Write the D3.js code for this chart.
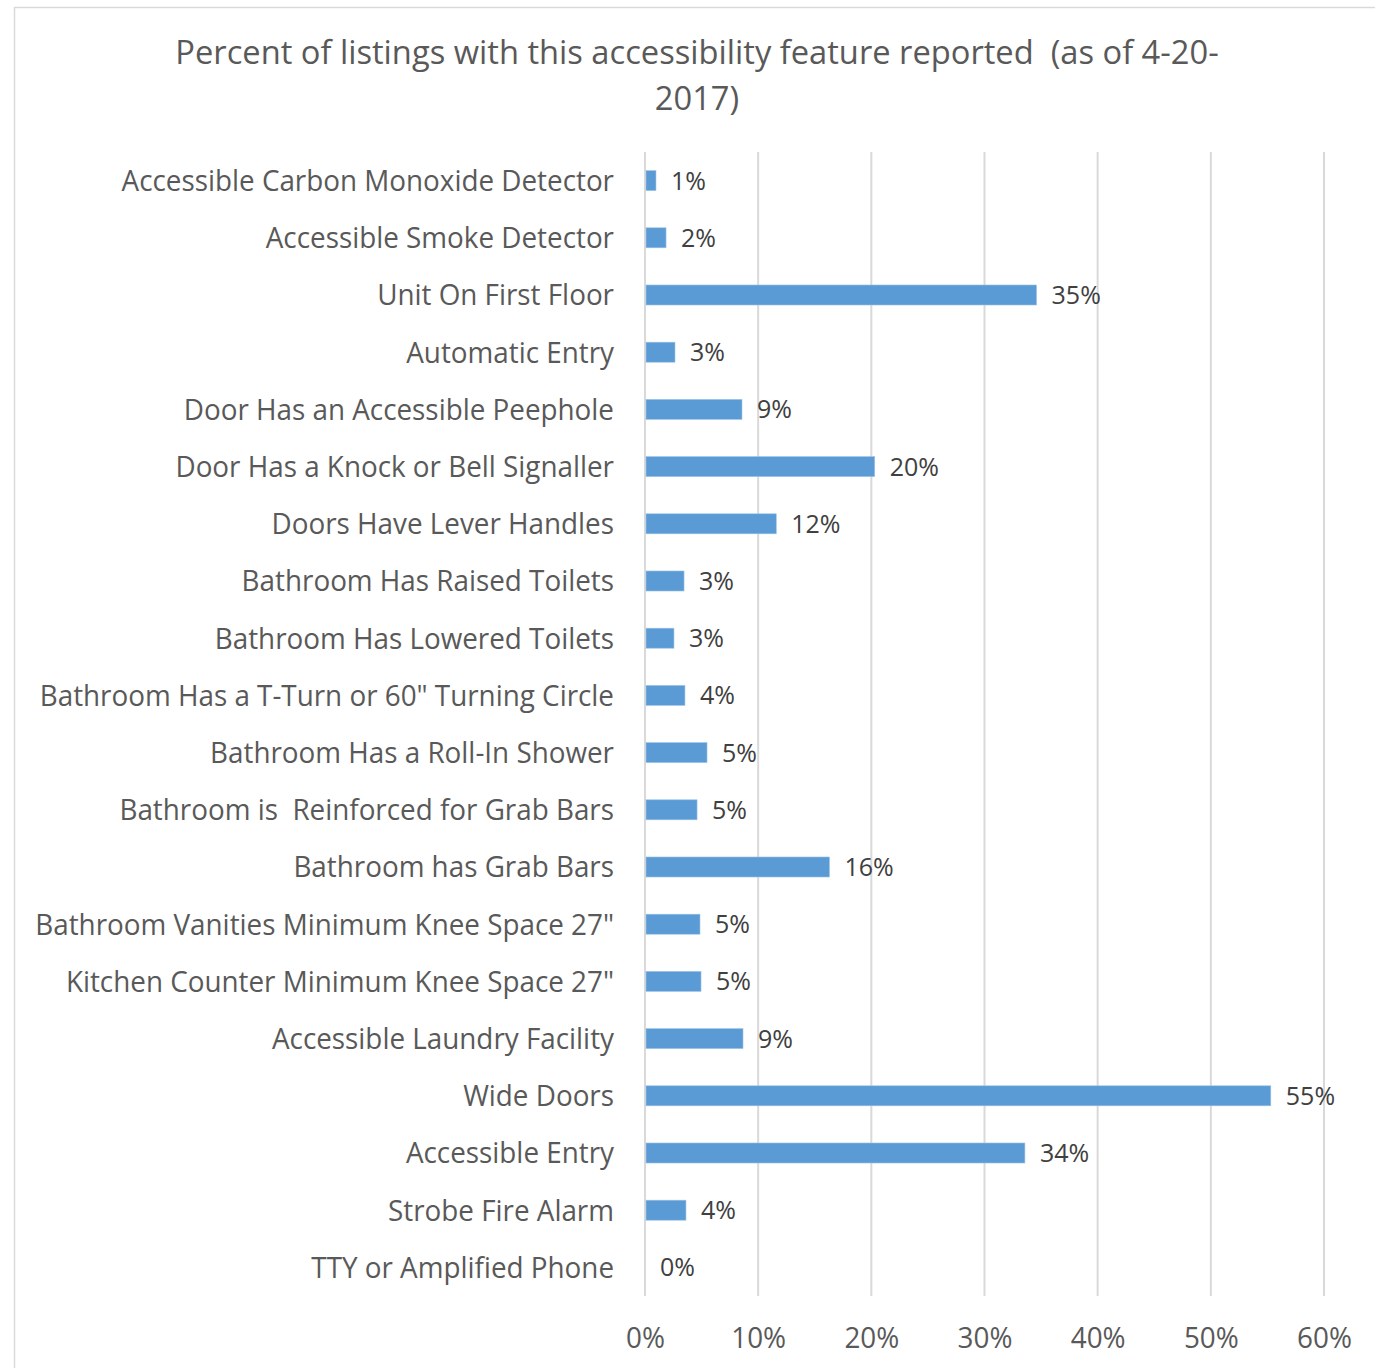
<!DOCTYPE html>
<html><head><meta charset="utf-8">
<script src="https://cdn.jsdelivr.net/npm/d3@7"></script>
<style>body{margin:0;background:#fff}svg{display:block}text{font-family:"Open Sans",sans-serif;white-space:pre}</style>
</head><body>
<svg id="c" width="1375" height="1368"></svg>
<script>
const categories = [
  "Accessible Carbon Monoxide Detector",
  "Accessible Smoke Detector",
  "Unit On First Floor",
  "Automatic Entry",
  "Door Has an Accessible Peephole",
  "Door Has a Knock or Bell Signaller",
  "Doors Have Lever Handles",
  "Bathroom Has Raised Toilets",
  "Bathroom Has Lowered Toilets",
  "Bathroom Has a T-Turn or 60\" Turning Circle",
  "Bathroom Has a Roll-In Shower",
  "Bathroom is  Reinforced for Grab Bars",
  "Bathroom has Grab Bars",
  "Bathroom Vanities Minimum Knee Space 27\"",
  "Kitchen Counter Minimum Knee Space 27\"",
  "Accessible Laundry Facility",
  "Wide Doors",
  "Accessible Entry",
  "Strobe Fire Alarm",
  "TTY or Amplified Phone"
];
const values = [0.97, 1.86, 34.6, 2.65, 8.57, 20.3, 11.6, 3.45, 2.56, 3.53, 5.48, 4.6, 16.3, 4.86, 4.95, 8.66, 55.3, 33.57, 3.62, 0.0];
const ticks = [0, 10, 20, 30, 40, 50, 60];
const title = ["Percent of listings with this accessibility feature reported  (as of 4-20-", "2017)"];

const svg = d3.select("#c");
svg.append("rect").attr("x",14.5).attr("y",7.5).attr("width",1400).attr("height",1400)
  .attr("fill","#fff").attr("stroke","#d9d9d9").attr("stroke-width",1.5);

const x = d3.scaleLinear().domain([0,60]).range([645,1324]);
const y = d3.scaleBand().domain(categories).range([152,1296]).paddingInner(0.65).paddingOuter(0.325);

// gridlines
svg.append("g").selectAll("line").data(ticks).join("line")
  .attr("x1",d=>x(d)).attr("x2",d=>x(d)).attr("y1",152).attr("y2",1296)
  .attr("stroke","#d9d9d9").attr("stroke-width",2);

// bars
svg.append("g").selectAll("rect").data(values).join("rect")
  .attr("x",x(0)+1).attr("y",(d,i)=>y(categories[i]))
  .attr("width",d=>Math.max(0,x(d)-x(0)-1)).attr("height",y.bandwidth())
  .attr("fill","#5b9bd5").attr("stroke","#9dc3e6").attr("stroke-width",0.6);

// value labels
svg.append("g").selectAll("text").data(values).join("text")
  .attr("x",d=>x(d)+15).attr("y",(d,i)=>y(categories[i])+y.bandwidth()/2)
  .attr("dy","0.36em").attr("font-size",25).attr("fill","#404040")
  .text(d=>Math.round(d)+"%");

// category labels
const catSX = 0.96;
svg.append("g").selectAll("text").data(categories).join("text")
  .attr("transform",d=>`translate(614,${y(d)+y.bandwidth()/2}) scale(${catSX},1)`)
  .attr("text-anchor","end").attr("dy","0.36em").attr("font-size",29).attr("fill","#595959")
  .text(d=>d);

// x axis tick labels
const xAxis = d3.axisBottom(x).tickValues(ticks).tickFormat(d=>d+"%").tickSize(0).tickPadding(0);
const ax = svg.append("g").attr("transform","translate(0,1338)").call(xAxis);
ax.select(".domain").remove();
ax.selectAll("text").attr("dy","0.36em").attr("y",0).attr("font-size",29).attr("fill","#595959")
  .attr("font-family","Open Sans").attr("transform","scale(0.96,1)");

// title
svg.append("g").selectAll("text").data(title).join("text")
  .attr("transform",(d,i)=>`translate(697,${52+i*46}) scale(0.99,1)`)
  .attr("text-anchor","middle").attr("dy","0.36em").attr("font-size",33).attr("fill","#595959")
  .text(d=>d);
</script>
</body></html>
